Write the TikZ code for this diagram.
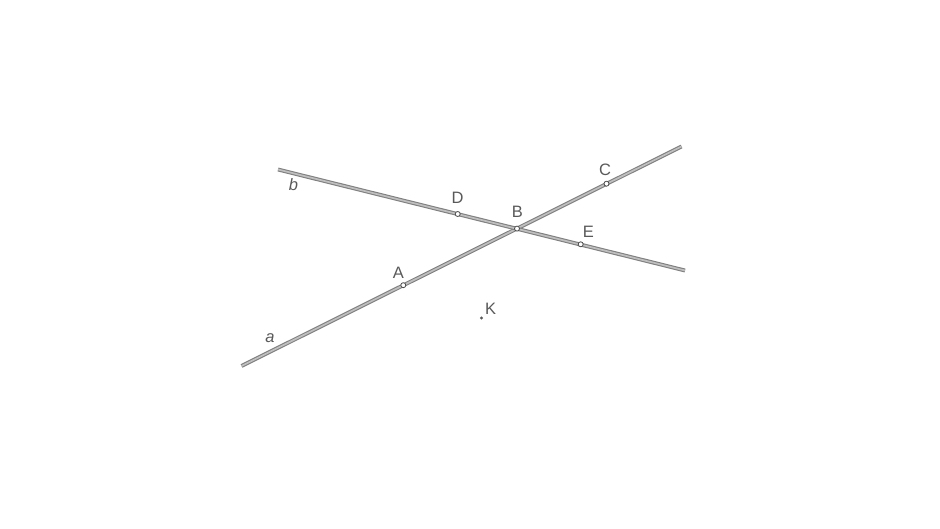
\documentclass[tikz,border=0pt]{standalone}
\usepackage{fontspec}
\setmainfont{Liberation Sans}
\begin{document}
\begin{tikzpicture}[x=1pt,y=-1pt,
  geoline/.style={draw=black!50, line width=1.1pt, double=black!25, double distance=1.7pt},
  geopt/.style={circle, draw=black!70, fill=white, line width=0.8pt, inner sep=0pt, minimum size=5pt},
  lbl/.style={text=black!65, font=\fontsize{16.5}{16.5}\selectfont, inner sep=0pt},
  lblit/.style={text=black!65, font=\fontsize{16.5}{16.5}\selectfont\itshape, inner sep=0pt}]
\useasboundingbox (0,0) rectangle (940,529);
% line ends
\coordinate (a1) at (241.5,366);
\coordinate (a2) at (681.5,146.5);
\coordinate (b1) at (278,169.5);
\coordinate (b2) at (685,270.5);
\draw[geoline] (a1) -- (a2);
\draw[geoline] (b1) -- (b2);
% points
\node[geopt] (A) at (403.3,285.2) {};
\node[geopt] (B) at (517,228.6) {};
\node[geopt] (C) at (606.5,183.7) {};
\node[geopt] (D) at (457.7,214) {};
\node[geopt] (E) at (580.7,244.3) {};
\fill[black!65] (481.5,318) circle (1.6pt) coordinate (K);
% labels
\node[lbl] (lA) at (398.3,272.5) {A};
\node[lbl] (lB) at (517.3,212) {B};
\node[lbl] (lC) at (605,169.5) {C};
\node[lbl] (lD) at (457.7,197.5) {D};
\node[lbl] (lE) at (588.3,232) {E};
\node[lbl] (lK) at (490.5,308.5) {K};
\node[lblit] (la) at (270,338.5) {a};
\node[lblit] (lb) at (293.5,185) {b};
\end{tikzpicture}
\end{document}
